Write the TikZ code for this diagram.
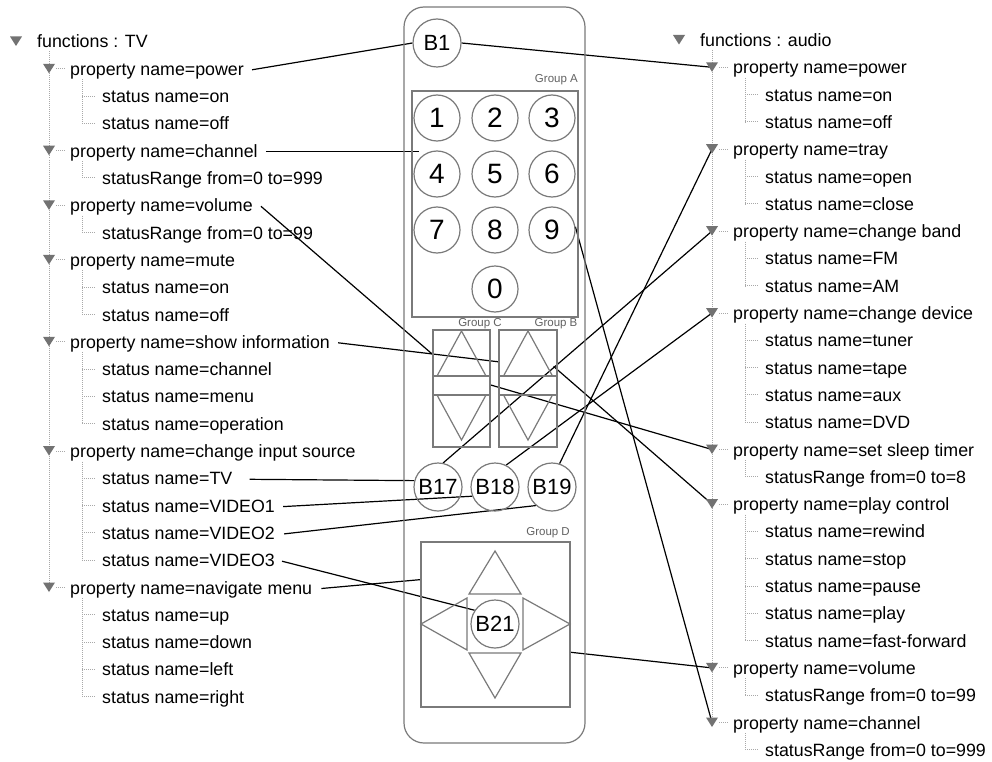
\documentclass[tikz,border=0pt]{standalone}
\usepackage{fontspec}
\setmainfont{Liberation Sans}
\usetikzlibrary{calc}
\pgfdeclarelayer{bg}
\pgfsetlayers{bg,main}
\definecolor{rmgray}{HTML}{7A7A7A}
\definecolor{dotgray}{HTML}{A8A8A8}
\definecolor{trigray}{HTML}{727272}
\tikzset{
  tree/.style={anchor=base west, inner sep=0pt, font=\fontsize{17.8}{20}\selectfont, text height=14pt, text depth=3pt},
  dotline/.style={draw=dotgray, line width=1pt, dash pattern=on 1pt off 1pt},
  tric/.style={fill=trigray},
  link/.style={draw=black, line width=1.2pt},
  rm/.style={draw=rmgray, line width=1.2pt},
  btn/.style={circle, draw=rmgray, line width=1.2pt, minimum size=48pt, inner sep=0pt, font=\fontsize{22}{24}\selectfont},
  digit/.style={circle, draw=rmgray, line width=1.2pt, minimum size=46pt, inner sep=0pt, font=\fontsize{28}{30}\selectfont},
  grp/.style={rectangle, draw=rmgray, line width=1.2pt, inner sep=0pt},
  glabel/.style={inner sep=0pt, font=\fontsize{11.5}{12}\selectfont, text=rmgray!80!black}
}
\newcommand\rootrow[3]{%
  \fill[tric] (10,36.5+27.3*#1) -- (22,36.5+27.3*#1) -- (16,46+27.3*#1) -- cycle;
  \node[tree] (#2) at (37,48+27.3*#1) {#3};}
\newcommand\proprow[3]{%
  \draw[dotline] (56,41.5+27.3*#1) -- (65,41.5+27.3*#1);
  \fill[tric] (43,36.5+27.3*#1) -- (55,36.5+27.3*#1) -- (49,46+27.3*#1) -- cycle;
  \coordinate (#2T) at (49,41.5+27.3*#1);
  \node[tree] (#2) at (70,48+27.3*#1) {#3};}
\newcommand\statrow[3]{%
  \draw[dotline] (82,41.5+27.3*#1) -- (96,41.5+27.3*#1);
  \node[tree] (#2) at (102,48+27.3*#1) {#3};}
\newcommand\kidline[2]{\draw[dotline] (82,52+27.3*#1) -- (82,41.5+27.3*#2);}
\newcommand\propline[1]{\draw[dotline] (49,51.5) -- (49,41.5+27.3*#1);}
\begin{document}
\begin{tikzpicture}[x=1pt,y=-1pt]
\begin{pgfonlayer}{bg}
\fill[white] (0,0) rectangle (992,762);
\end{pgfonlayer}
\useasboundingbox (0,0) rectangle (992,762);

% ---------- left tree ----------
\propline{20}
\kidline{1}{3}\kidline{4}{5}\kidline{6}{7}\kidline{8}{10}\kidline{11}{14}\kidline{15}{19}\kidline{20}{24}
\rootrow{0}{tvRoot}{functions : TV}
\proprow{1}{tPow}{property name=power}
\statrow{2}{L2}{status name=on}
\statrow{3}{L3}{status name=off}
\proprow{4}{tChan}{property name=channel}
\statrow{5}{L5}{statusRange from=0 to=999}
\proprow{6}{tVol}{property name=volume}
\statrow{7}{L7}{statusRange from=0 to=99}
\proprow{8}{tMute}{property name=mute}
\statrow{9}{L9}{status name=on}
\statrow{10}{L10}{status name=off}
\proprow{11}{tShow}{property name=show information}
\statrow{12}{L12}{status name=channel}
\statrow{13}{L13}{status name=menu}
\statrow{14}{L14}{status name=operation}
\proprow{15}{tInput}{property name=change input source}
\statrow{16}{tsTV}{status name=TV}
\statrow{17}{tsVa}{status name=VIDEO1}
\statrow{18}{tsVb}{status name=VIDEO2}
\statrow{19}{tsVc}{status name=VIDEO3}
\proprow{20}{tNav}{property name=navigate menu}
\statrow{21}{L21}{status name=up}
\statrow{22}{L22}{status name=down}
\statrow{23}{L23}{status name=left}
\statrow{24}{L24}{status name=right}

% ---------- right tree ----------
\begin{scope}[shift={(663,-1.5)}]
\propline{25}
\kidline{1}{3}\kidline{4}{6}\kidline{7}{9}\kidline{10}{14}\kidline{15}{16}\kidline{17}{22}\kidline{23}{24}\kidline{25}{26}
\rootrow{0}{auRoot}{functions : audio}
\proprow{1}{aPow}{property name=power}
\statrow{2}{R2}{status name=on}
\statrow{3}{R3}{status name=off}
\proprow{4}{aTray}{property name=tray}
\statrow{5}{R5}{status name=open}
\statrow{6}{R6}{status name=close}
\proprow{7}{aBand}{property name=change band}
\statrow{8}{R8}{status name=FM}
\statrow{9}{R9}{status name=AM}
\proprow{10}{aDev}{property name=change device}
\statrow{11}{R11}{status name=tuner}
\statrow{12}{R12}{status name=tape}
\statrow{13}{R13}{status name=aux}
\statrow{14}{R14}{status name=DVD}
\proprow{15}{aSleep}{property name=set sleep timer}
\statrow{16}{R16}{statusRange from=0 to=8}
\proprow{17}{aPlay}{property name=play control}
\statrow{18}{R18}{status name=rewind}
\statrow{19}{R19}{status name=stop}
\statrow{20}{R20}{status name=pause}
\statrow{21}{R21}{status name=play}
\statrow{22}{R22}{status name=fast-forward}
\proprow{23}{aVol}{property name=volume}
\statrow{24}{R24}{statusRange from=0 to=99}
\proprow{25}{aChan}{property name=channel}
\statrow{26}{R26}{statusRange from=0 to=999}
\end{scope}

% ---------- remote ----------
\draw[rm, rounded corners=20pt] (404,7) rectangle (585,743);
\node[btn] (B1) at (437,43) {B1};
\node[glabel, anchor=east] (lblA) at (578,80) {Group A};
\node[grp, minimum width=166pt, minimum height=226pt] (grpA) at (495,204) {};
\node[digit] (n1) at (437,118) {1};
\node[digit] (n2) at (495,118) {2};
\node[digit] (n3) at (552,118) {3};
\node[digit] (n4) at (437,174) {4};
\node[digit] (n5) at (495,174) {5};
\node[digit] (n6) at (552,174) {6};
\node[digit] (n7) at (437,230) {7};
\node[digit] (n8) at (495,230) {8};
\node[digit] (n9) at (552,230) {9};
\node[digit] (n0) at (495,289) {0};

\node[glabel] (lblC) at (480,323.5) {Group C};
\node[glabel] (lblB) at (556,323.5) {Group B};
\node[grp, minimum width=57pt, minimum height=117pt] (grpC) at (461.5,388.5) {};
\node[grp, minimum width=58pt, minimum height=117pt] (grpB) at (528,388.5) {};
\draw[rm] (grpC.west |- 0,376) -- (grpC.east |- 0,376);
\draw[rm] (grpC.west |- 0,395) -- (grpC.east |- 0,395);
\draw[rm] (grpB.west |- 0,376) -- (grpB.east |- 0,376);
\draw[rm] (grpB.west |- 0,395) -- (grpB.east |- 0,395);
\draw[rm] (437,376) -- (461.5,331) -- (486,376);
\draw[rm] (437,395) -- (461.5,440) -- (486,395);
\draw[rm] (503.5,376) -- (528,331) -- (552.5,376);
\draw[rm] (503.5,395) -- (528,440) -- (552.5,395);

\node[btn] (B17) at (438,487) {B17};
\node[btn] (B18) at (495,487) {B18};
\node[btn] (B19) at (552,487) {B19};

\node[glabel, anchor=east] (lblD) at (570,533) {Group D};
\node[grp, minimum width=149pt, minimum height=165pt] (grpD) at (495.5,624.5) {};
\draw[rm] (469,594) -- (495,551) -- (521,594) -- cycle;
\draw[rm] (469,653) -- (495,698) -- (521,653) -- cycle;
\draw[rm] (467,598) -- (421,624) -- (467,650) -- cycle;
\draw[rm] (523,598) -- (570,624) -- (523,650) -- cycle;
\node[btn] (B21) at (495,624) {B21};

% ---------- connectors ----------
\begin{pgfonlayer}{bg}
\draw[link] ([xshift=8pt]tPow.east) -- (B1.west);
\draw[link] (B1.east) -- (aPowT);
\draw[link] ([xshift=8pt]tChan.east) -- ([xshift=8pt]tChan.east -| grpA.west);
\draw[link] ([xshift=8pt]tVol.east) -- ($(grpC.north west)!0.21!(grpC.south west)$);
\draw[link] ([xshift=8pt]tShow.east) -- ($(grpB.north west)!0.274!(grpB.south west)$);
\draw[link] ($(grpC.north east)!0.47!(grpC.south east)$) -- (aSleepT);
\draw[link] ($(grpB.north east)+(-4,37)$) -- (aPlayT);
\draw[link] (B17.78) -- (aBandT);
\draw[link] (B18.63) -- (aDevT);
\draw[link] (B19.72) -- (aTrayT);
\draw[link] (n9.8) -- (aChanT);
\draw[link] ([xshift=17pt]tsTV.east) -- (B17.165);
\draw[link] ([xshift=8pt]tsVa.east) -- (B18.202);
\draw[link] ([xshift=9pt]tsVb.east) -- (B19.229);
\draw[link] ([xshift=7pt]tsVc.east) -- (B21.146);
\draw[link] ([xshift=9pt]tNav.east) -- ($(grpD.north west)!0.23!(grpD.south west)$);
\draw[link] ($(grpD.north east)!0.667!(grpD.south east)$) -- (aVolT);
\end{pgfonlayer}
\end{tikzpicture}
\end{document}
